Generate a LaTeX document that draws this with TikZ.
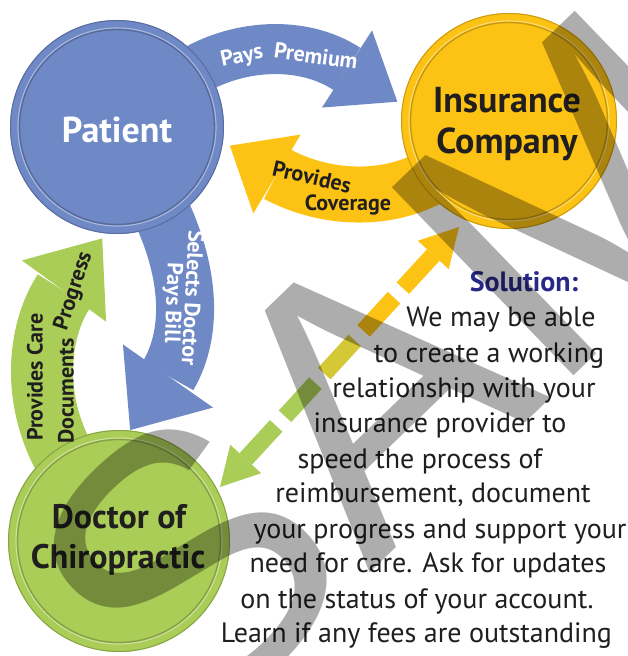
\documentclass[tikz,border=0pt]{standalone}
\usepackage{fontspec}
\setmainfont{PT Sans}
\newfontfamily\wmfont{Liberation Sans}
\usetikzlibrary{calc}
\pgfdeclarelayer{bg}
\pgfdeclarelayer{back}
\pgfdeclarelayer{front}
\pgfsetlayers{bg,back,main,front}
\definecolor{cblue}{RGB}{111,137,198}
\definecolor{cyel}{RGB}{253,195,20}
\definecolor{cgrn}{RGB}{170,205,88}
\definecolor{cmix}{RGB}{212,200,54}
\definecolor{cnavy}{RGB}{40,40,135}
\definecolor{ctext}{RGB}{32,30,30}
\newcommand\ahd[5]{\fill[#5] ($(#1)+(#2:#4)$) -- ($(#1)+(#2+90:#3)$) -- ($(#1)+(#2-90:#3)$) -- cycle;}
\begin{document}
\begin{tikzpicture}[x=1pt,y=-1pt,
  bubble/.style={circle, inner sep=0pt, outer sep=0pt, minimum size=#1},
  band/.style={line width=#1, line cap=butt},
  clab/.style={font=\bfseries\fontsize{36}{40}\selectfont, inner sep=0pt, anchor=base},
  alab/.style={font=\bfseries\fontsize{22}{24}\selectfont, inner sep=0pt},
  para/.style={font=\fontsize{28}{30}\selectfont, text=ctext, inner sep=0pt, anchor=base}]
\useasboundingbox (0,0) rectangle (627,656);
\begin{pgfonlayer}{bg}
\fill[white] (0,0) rectangle (627,656);
\end{pgfonlayer}

% circles
\node[bubble=214pt, fill=cblue] (pat) at (117,127) {};
\node[bubble=216pt, fill=cyel] (ins) at (509,121) {};
\node[bubble=222pt, fill=cgrn] (doc) at (119,541) {};
\foreach \n/\r/\c in {pat/107/cblue, ins/108/cyel, doc/111/cgrn}{
  \draw[\c!80!black, line width=1pt] (\n.center) circle[radius=\r pt - 0.5pt];
  \draw[\c!60!white, line width=1.2pt] (\n.center) circle[radius=\r pt - 8pt];
  \draw[\c!78!black, line width=1.4pt] (\n.center) circle[radius=\r pt - 9.5pt];
}
\node[clab, text=white] (patL) at (117,142) {Patient};
\node[clab, text=ctext] (insL1) at (507,112) {Insurance};
\node[clab, text=ctext] (insL2) at (507,153) {Company};
\node[clab, text=ctext, font=\bfseries\fontsize{34}{38}\selectfont] (docL1) at (119,528) {Doctor of};
\node[clab, text=ctext, font=\bfseries\fontsize{34}{38}\selectfont] (docL2) at (118,568) {Chiropractic};

% curved arrows
\coordinate (ppE) at (347,69);
\coordinate (pcE) at (277,174);
\coordinate (sdE) at (168,376);
\coordinate (gE) at (64,291);
\begin{pgfonlayer}{back}
\draw[band=50pt, cblue, shorten <=-30pt] (pat) .. controls (228,44) and (300,38) .. (ppE);
\ahd{ppE}{33}{46}{60}{cblue}
\draw[band=56pt, cyel, shorten <=-30pt] (ins) .. controls (395,205) and (325,200) .. (pcE);
\ahd{pcE}{211}{46}{55}{cyel}
\draw[band=58pt, cblue, shorten <=-30pt] (pat) .. controls (190,265) and (195,330) .. (sdE);
\ahd{sdE}{125}{55}{66}{cblue}
\draw[band=62pt, cgrn, shorten <=-30pt] (doc) .. controls (28,405) and (38,330) .. (gE);
\ahd{gE}{-54}{52}{65}{cgrn}
\end{pgfonlayer}

% arrow labels
\node[alab, text=white, rotate=12] (pp1) at (242,57) {Pays};
\node[alab, text=white, rotate=-8] (pp2) at (316,56) {Premium};
\node[alab, text=ctext, rotate=-13] (pc1) at (312,177) {Provides};
\node[alab, text=ctext, anchor=base] (pc2) at (348,210) {Coverage};
\node[alab, text=white, rotate=-93] (sd1) at (193,298) {Selects Doctor};
\node[alab, text=white, rotate=-92] (sd2) at (172,303) {Pays Bill};
\node[alab, text=ctext, rotate=90] (gc1) at (35,377) {Provides Care};
\node[alab, text=ctext, rotate=90] (gc2) at (66,391) {Documents};
\node[alab, text=ctext, rotate=72] (gc3) at (74,291) {Progress};

% dashed double arrow
\coordinate (yB) at (433.3,255);
\coordinate (gB) at (245.7,459);
\ahd{yB}{-47.4}{21}{38}{cyel}
\ahd{gB}{132.6}{21}{38}{cgrn}
\foreach \a/\b/\c in {0/0.1625/cyel, 0.2094/0.3718/cyel, 0.4188/0.5812/cmix, 0.6282/0.7906/cgrn, 0.8375/1/cgrn}
  \draw[\c, band=17pt] ($(yB)!\a!(gB)$) -- ($(yB)!\b!(gB)$);

% solution text
\node[para, font=\bfseries\fontsize{28}{30}\selectfont, text=cnavy] (t1) at (524,291) {Solution:};
\node[para] (t2) at (501,326) {We may be able};
\node[para] (t3) at (489,362) {to create a working};
\node[para] (t4) at (464,397) {relationship with your};
\node[para] (t5) at (440,432) {insurance provider to};
\node[para] (t6) at (420,468) {speed the process of};
\node[para] (t7) at (433,502) {reimbursement, document};
\node[para] (t8) at (440,538) {your progress and support your};
\node[para] (t9) at (428,572) {need for care. Ask for updates};
\node[para] (t10) at (417,608) {on the status of your account.};
\node[para] (t11) at (416.5,642) {Learn if any fees are outstanding};

% watermark
\begin{pgfonlayer}{front}
\node[font=\wmfont\fontsize{380}{380}\selectfont, text=black, text opacity=0.32, rotate=44, anchor=base west, inner sep=0pt] (wm) at (187,750) {SAMPLE};
\end{pgfonlayer}
\end{tikzpicture}
\end{document}
